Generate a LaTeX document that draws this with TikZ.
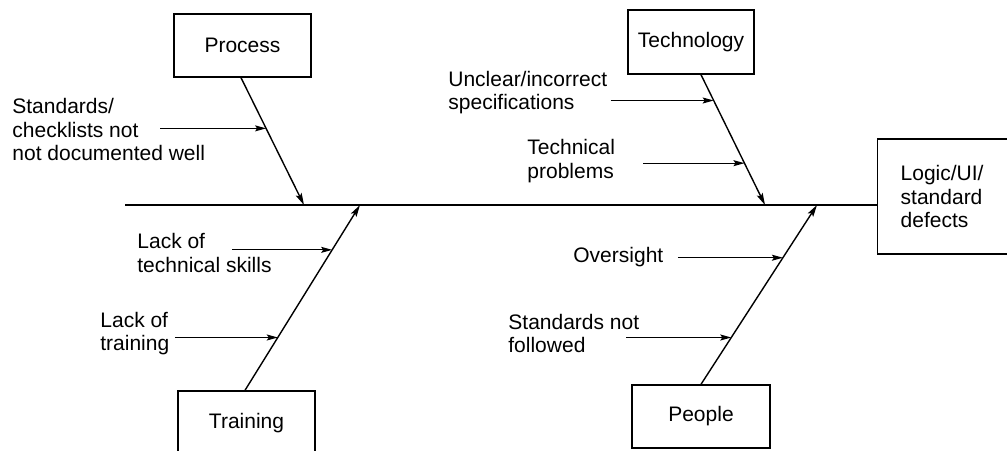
\documentclass[tikz,border=0pt]{standalone}
\usepackage{fontspec}
\setmainfont{Liberation Sans}
\usetikzlibrary{arrows.meta}

\begin{document}
\begin{tikzpicture}[
    x=0.5pt, y=-0.5pt,
    every node/.style={font=\fontsize{10.5}{11.6}\selectfont},
    box/.style={draw, rectangle, line width=0.7pt, inner sep=0pt},
    cause/.style={align=left, anchor=west, inner sep=0pt},
    bone/.style={line width=0.7pt, -{Stealth[length=6pt,width=3.2pt,inset=1.2pt]}},
    twig/.style={line width=0.6pt, -{Stealth[length=5.5pt,width=3pt,inset=1pt]}}
]
\clip (0,0) rectangle (1007,450);

% effect and spine
\node[box, anchor=west, minimum height=57.5pt, align=left, text width=60pt, inner xsep=11.5pt] (logic) at (877,196.5) {Logic/UI/\\standard\\defects};
\coordinate (tail) at (125,205);
\draw[line width=0.7pt] (tail) -- (tail -| logic.west);

% categories
\node[box, minimum width=68.5pt, minimum height=31.5pt] (process) at (242.5,45.5) {Process};
\node[box, minimum width=63pt, minimum height=32pt] (technology) at (691,42) {Technology};
\node[box, minimum width=68.5pt, minimum height=32pt] (training) at (246.5,423) {Training};
\node[box, minimum width=69pt, minimum height=31.5pt] (people) at (701,416.5) {People};

\coordinate (ps) at (304,205);
\coordinate (ts) at (765,205);
\coordinate (trs) at (360,205);
\coordinate (pes) at (817,205);

\draw[bone] ([xshift=-0.75pt]process.south) -- (ps) coordinate[pos=.398] (p1);
\draw[bone] ([xshift=5pt]technology.south) -- (ts) coordinate[pos=.198] (t1) coordinate[pos=.679] (t2);
\draw[bone] ([xshift=-0.75pt]training.north) -- (trs) coordinate[pos=.285] (tr1) coordinate[pos=.758] (tr2);
\draw[bone] (people.north) -- (pes) coordinate[pos=.261] (pe1) coordinate[pos=.706] (pe2);

% causes
\node[cause] (standards) at (12,129.5) {Standards/\\checklists not\\not documented well};
\node[cause] (unclear) at (448,92.5) {Unclear/incorrect\\specifications};
\node[cause] (technical) at (527,161) {Technical\\problems};
\node[cause] (skills) at (137,253) {Lack of\\technical skills};
\node[cause] (lacktraining) at (100,333.5) {Lack of\\training};
\node[cause] (oversight) at (573,257) {Oversight};
\node[cause] (notfollowed) at (508,333.5) {Standards not\\followed};

\draw[twig] (p1) ++(-106,0) -- (p1);
\draw[twig] (t1) ++(-103,0) -- (t1);
\draw[twig] (t2) ++(-101,0) -- (t2);
\draw[twig] (tr2) ++(-100,0) -- (tr2);
\draw[twig] (tr1) ++(-103,0) -- (tr1);
\draw[twig] (pe2) ++(-105,0) -- (pe2);
\draw[twig] (pe1) ++(-105,0) -- (pe1);
\end{tikzpicture}
\end{document}
